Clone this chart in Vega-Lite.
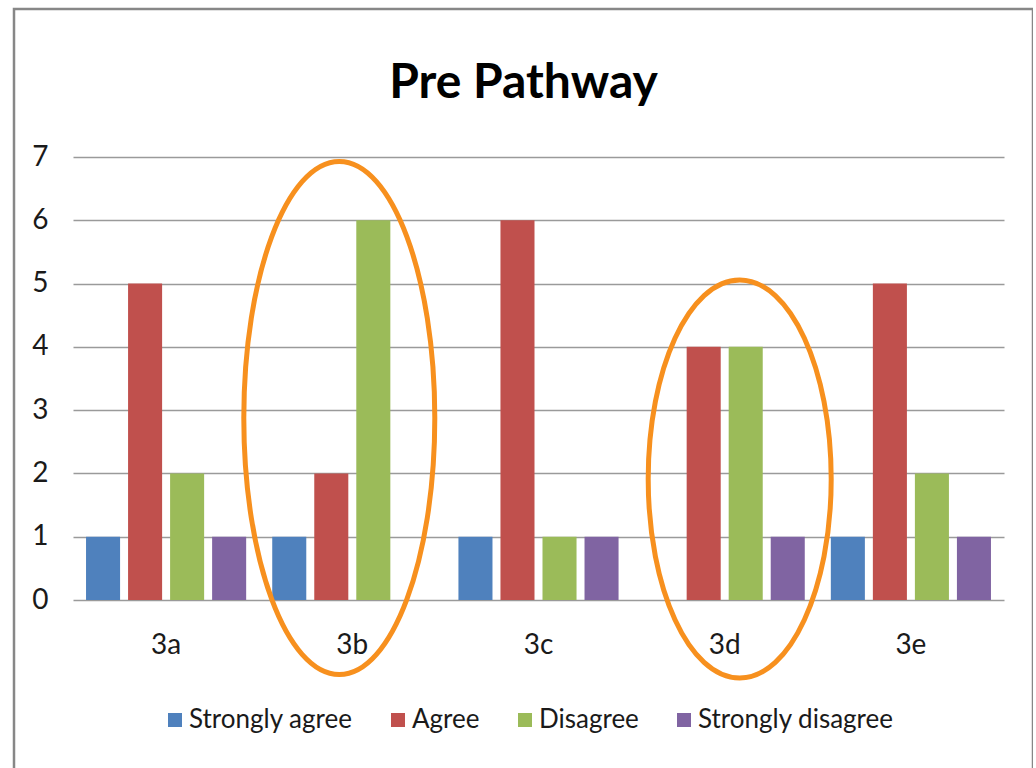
{
  "$schema": "https://vega.github.io/schema/vega-lite/v6.json",
  "width": 1019,
  "height": 790,
  "padding": {"left": 14, "top": 9, "right": 0, "bottom": 0},
  "autosize": {"type": "pad"},
  "background": "white",
  "config": {"view": {"stroke": "#878787", "strokeWidth": 2.5}, "font": "Lato"},
  "title": {"text": "Pre Pathway", "fontSize": 48, "fontWeight": "bold", "font": "Lato", "color": "#000000", "anchor": "middle", "frame": "group", "baseline": "alphabetic", "offset": -137},
  "datasets": {
    "answers": [
      {"q": "3a", "response": "Strongly agree", "count": 1},
      {"q": "3a", "response": "Agree", "count": 5},
      {"q": "3a", "response": "Disagree", "count": 2},
      {"q": "3a", "response": "Strongly disagree", "count": 1},
      {"q": "3b", "response": "Strongly agree", "count": 1},
      {"q": "3b", "response": "Agree", "count": 2},
      {"q": "3b", "response": "Disagree", "count": 6},
      {"q": "3b", "response": "Strongly disagree", "count": 0},
      {"q": "3c", "response": "Strongly agree", "count": 1},
      {"q": "3c", "response": "Agree", "count": 6},
      {"q": "3c", "response": "Disagree", "count": 1},
      {"q": "3c", "response": "Strongly disagree", "count": 1},
      {"q": "3d", "response": "Strongly agree", "count": 0},
      {"q": "3d", "response": "Agree", "count": 4},
      {"q": "3d", "response": "Disagree", "count": 4},
      {"q": "3d", "response": "Strongly disagree", "count": 1},
      {"q": "3e", "response": "Strongly agree", "count": 1},
      {"q": "3e", "response": "Agree", "count": 5},
      {"q": "3e", "response": "Disagree", "count": 2},
      {"q": "3e", "response": "Strongly disagree", "count": 1}
    ],
    "marked": [
      {"q": "3b", "mid": 2.876},
      {"q": "3d", "mid": 1.912}
    ]
  },
  "layer": [
    {
      "data": {"name": "answers"},
      "mark": {"type": "bar"},
      "encoding": {
        "x": {
          "field": "q", "type": "nominal",
          "scale": {"range": [59, 990], "paddingInner": 0.14, "paddingOuter": 0.07},
          "axis": {"title": null, "domain": false, "ticks": false, "grid": false, "labelFontSize": 28, "labelColor": "#1a1a1a", "labelFont": "Lato", "labelAngle": 0, "offset": -199, "labelPadding": 31}
        },
        "xOffset": {
          "field": "response", "type": "nominal",
          "sort": ["Strongly agree", "Agree", "Disagree", "Strongly disagree"],
          "scale": {"paddingInner": 0.19, "paddingOuter": 0}
        },
        "y": {
          "field": "count", "type": "quantitative",
          "scale": {"domain": [0, 7], "range": [591, 148], "nice": false, "zero": true},
          "axis": {"title": null, "values": [0, 1, 2, 3, 4, 5, 6, 7], "format": "d", "grid": true, "gridColor": "#9a9a9a", "gridWidth": 1.5, "domain": false, "ticks": false, "labelFontSize": 28, "labelColor": "#1a1a1a", "labelFont": "Lato", "offset": -36, "labelPadding": 2}
        },
        "color": {
          "field": "response", "type": "nominal",
          "sort": ["Strongly agree", "Agree", "Disagree", "Strongly disagree"],
          "scale": {"domain": ["Strongly agree", "Agree", "Disagree", "Strongly disagree"], "range": ["#4F81BD", "#C0504D", "#9BBB59", "#8064A2"]},
          "legend": {"orient": "none", "legendX": 148, "legendY": 698, "direction": "horizontal", "title": null, "symbolType": "square", "symbolSize": 196, "symbolStrokeWidth": 0, "labelFontSize": 26, "labelFont": "Lato", "labelColor": "#1a1a1a", "labelOffset": 1, "columnPadding": 32, "labelLimit": 400}
        }
      }
    },
    {
      "data": {"name": "marked"},
      "mark": {"type": "point", "filled": false, "size": 4, "color": "#F7901E", "strokeWidth": 5, "opacity": 1},
      "encoding": {
        "x": {"field": "q", "type": "nominal"},
        "y": {"field": "mid", "type": "quantitative"},
        "shape": {
          "field": "q", "type": "nominal",
          "scale": {"domain": ["3b", "3d"], "range": ["M -108.5 0 A 95.5 256.5 0 1 0 82.5 0 A 95.5 256.5 0 1 0 -108.5 0 Z", "M -76.5 0 A 91.5 199 0 1 0 106.5 0 A 91.5 199 0 1 0 -76.5 0 Z"]},
          "legend": null
        }
      }
    }
  ]
}
